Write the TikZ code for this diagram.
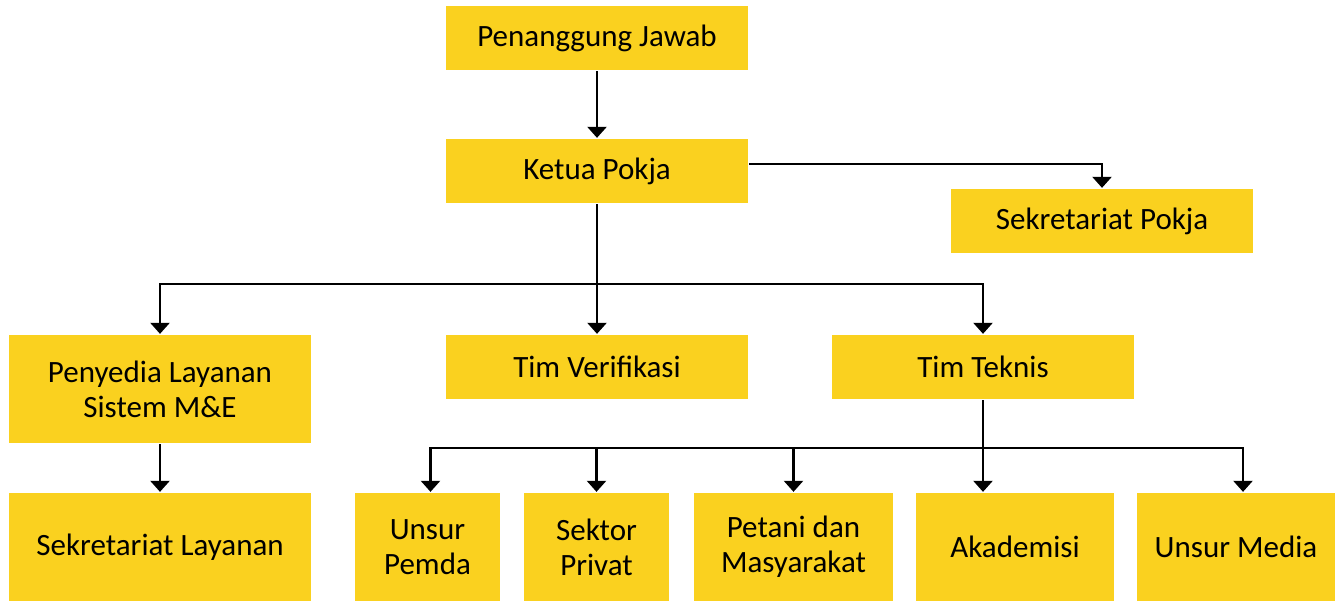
\documentclass[tikz,border=0pt]{standalone}
\usepackage{fontspec}
\setmainfont{Carlito}
\usetikzlibrary{arrows.meta}
\definecolor{kuning}{HTML}{FAD11F}
\begin{document}
\begin{tikzpicture}[x=1pt, y=-1pt, >={Triangle[width=19pt,length=11pt]}, line width=2.3pt]
\tikzstyle{kotak}=[rectangle,fill=kuning,minimum width=302pt,minimum height=64pt,inner sep=0pt,align=center,font=\fontsize{31}{35}\selectfont]
\useasboundingbox (0,0) rectangle (1335,601);
\node[kotak](pj) at (597,38) {Penanggung Jawab};
\node[kotak](ketua) at (597,171) {Ketua Pokja};
\node[kotak](sekpokja) at (1102,221) {Sekretariat Pokja};
\node[kotak,minimum height=108pt](penyedia) at (160,389) {Penyedia Layanan\\Sistem M\&E};
\node[kotak](verif) at (597,367) {Tim Verifikasi};
\node[kotak](teknis) at (983,367) {Tim Teknis};
\node[kotak,minimum height=108pt](seklay) at (160,547) {Sekretariat Layanan};
\node[kotak,minimum width=145pt,minimum height=108pt](pemda) at (427.5,547) {Unsur\\Pemda};
\node[kotak,minimum width=145pt,minimum height=108pt](privat) at (596.5,547) {Sektor\\Privat};
\node[kotak,minimum width=199pt,minimum height=108pt](petani) at (793.5,547) {Petani dan\\Masyarakat};
\node[kotak,minimum width=198pt,minimum height=108pt](akad) at (1015,547) {Akademisi};
\node[kotak,minimum width=198pt,minimum height=108pt](media) at (1236,547) {Unsur Media};
\coordinate (cab1) at (597,284);
\coordinate (cab2) at (983,448);
% garis
\draw[->] (pj.south) -- (ketua.north);
\draw[->] ([yshift=7pt]ketua.east) -| (sekpokja.north);
\draw (ketua.south) -- (cab1);
\draw[->] (cab1) -| (penyedia.north);
\draw[->] (cab1) -- (verif.north);
\draw[->] (cab1) -| (teknis.north);
\draw[->] (penyedia.south) -- (seklay.north);
\draw[->] (teknis.south) -- (teknis.south |- akad.north);
\draw[->] (cab2) -| ([xshift=3pt]pemda.north);
\draw[->] (cab2) -| (privat.north);
\draw[->] (cab2) -| (petani.north);
\draw[->] (cab2) -| ([xshift=7pt]media.north);
\end{tikzpicture}
\end{document}
